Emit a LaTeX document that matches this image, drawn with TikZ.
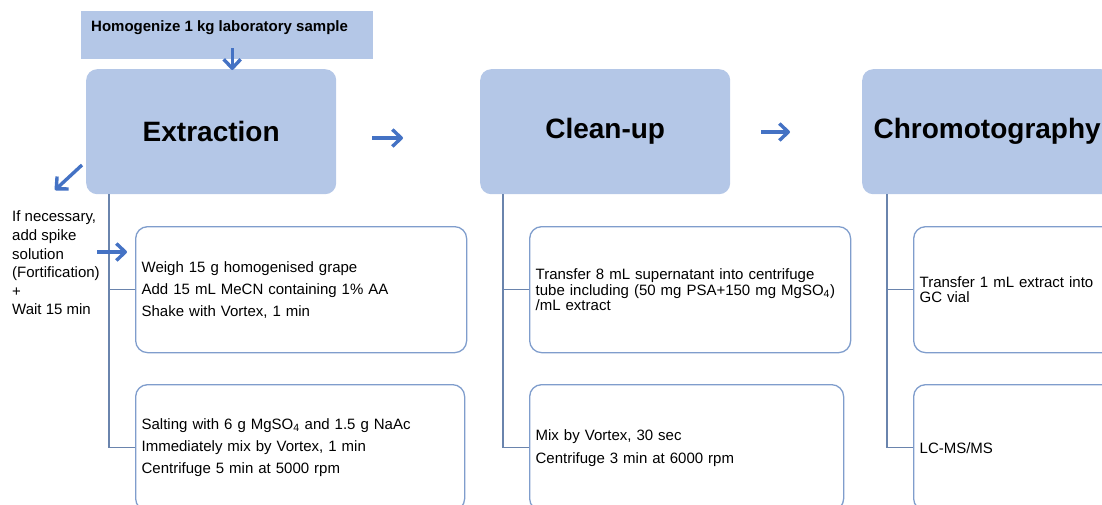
\documentclass[tikz,border=0pt]{standalone}
\usepackage{fontspec}
\setmainfont{Liberation Sans}
\usetikzlibrary{arrows.meta}
\definecolor{mainfill}{HTML}{B4C7E7}
\definecolor{subborder}{HTML}{7F9DCC}
\definecolor{connline}{HTML}{6A84AD}
\definecolor{arrowblue}{HTML}{4472C4}
\begin{document}
\begin{tikzpicture}[x=1pt,y=-1pt,
  mainbox/.style={fill=mainfill, rounded corners=11pt, minimum width=250pt, minimum height=125pt, inner sep=0pt, anchor=north west, font=\fontsize{28}{32}\selectfont\bfseries},
  subbox/.style={draw=subborder, line width=1.3pt, rounded corners=12pt, minimum height=126pt, anchor=north west, align=left, inner xsep=6pt, inner ysep=0pt, font=\fontsize{15}{22}\selectfont},
  conn/.style={draw=connline, line width=1.3pt},
  bluearrow/.style={draw=arrowblue, line width=3.4pt, -{Straight Barb[length=9pt,width=17pt,line join=round]}},
  plain/.style={inner sep=0pt, font=\fontsize{15}{18.6}\selectfont, align=left}]
\useasboundingbox (0,0) rectangle (1102,504);
\clip (0,0) rectangle (1102,504);

% top sample box
\node[fill=mainfill, minimum width=292pt, minimum height=48pt, anchor=north west, inner sep=0pt] (top) at (81,11) {};
\node[anchor=base west, inner sep=0pt, font=\fontsize{15}{18}\selectfont\bfseries] (toptext) at (91,31) {Homogenize 1 kg laboratory sample};

% main boxes
\node[mainbox] (ext) at (86,69) {Extraction};
\node[mainbox] (cln) at (480,69) {Clean-up};
\node[mainbox] (chr) at (862,69) {Chromotography};

% sub boxes
\node[subbox, text width=319pt] (e1) at (135,226) {Weigh 15 g homogenised grape\\Add 15 mL MeCN containing 1\% AA\\Shake with Vortex, 1 min};
\node[subbox, text width=317pt] (e2) at (135,384) {Salting with 6 g MgSO\textsubscript{4} and 1.5 g NaAc\\Immediately mix by Vortex, 1 min\\Centrifuge 5 min at 5000 rpm};
\node[subbox, text width=309pt, font=\fontsize{15}{15.5}\selectfont] (c1) at (529,226) {Transfer 8 mL supernatant into centrifuge\\tube including (50 mg PSA+150 mg MgSO\textsubscript{4})\\/mL extract};
\node[subbox, text width=302pt, font=\fontsize{15}{23}\selectfont] (c2) at (529,384) {Mix by Vortex, 30 sec\\Centrifuge 3 min at 6000 rpm};
\node[subbox, text width=310pt, font=\fontsize{15}{15.5}\selectfont] (r1) at (913,226) {Transfer 1 mL extract into\\GC vial};
\node[subbox, text width=310pt] (r2) at (913,384) {LC-MS/MS};

% left note
\node[plain, anchor=west] (note) at (12,263) {If necessary,\\add spike\\solution\\(Fortification)\\+\\Wait 15 min};

% tree connectors
\coordinate (ex) at ([xshift=23pt]ext.south west);
\draw[conn] (ex) |- (e2.west);
\draw[conn] (e1.west) -- (e1.west -| ex);
\coordinate (cx) at ([xshift=23pt]cln.south west);
\draw[conn] (cx) |- (c2.west);
\draw[conn] (c1.west) -- (c1.west -| cx);
\coordinate (rx) at ([xshift=25pt]chr.south west);
\draw[conn] (rx) |- (r2.west);
\draw[conn] (r1.west) -- (r1.west -| rx);

% blue arrows
\coordinate (a0s) at ([xshift=5pt,yshift=11pt]top.south);
\draw[bluearrow] (a0s) -- ([yshift=-1pt]a0s |- ext.north);
\coordinate (a1s) at (372,138);
\coordinate (a1e) at (403,138);
\draw[bluearrow] (a1s) -- (a1e);
\coordinate (a2s) at (761,132);
\coordinate (a2e) at (790,132);
\draw[bluearrow] (a2s) -- (a2e);
\coordinate (a3s) at (82,165);
\coordinate (a3e) at (55,190);
\draw[bluearrow] (a3s) -- (a3e);
\coordinate (a4s) at (97,252);
\draw[bluearrow] (a4s) -- ([xshift=-8pt]a4s -| e1.west);
\end{tikzpicture}
\end{document}
